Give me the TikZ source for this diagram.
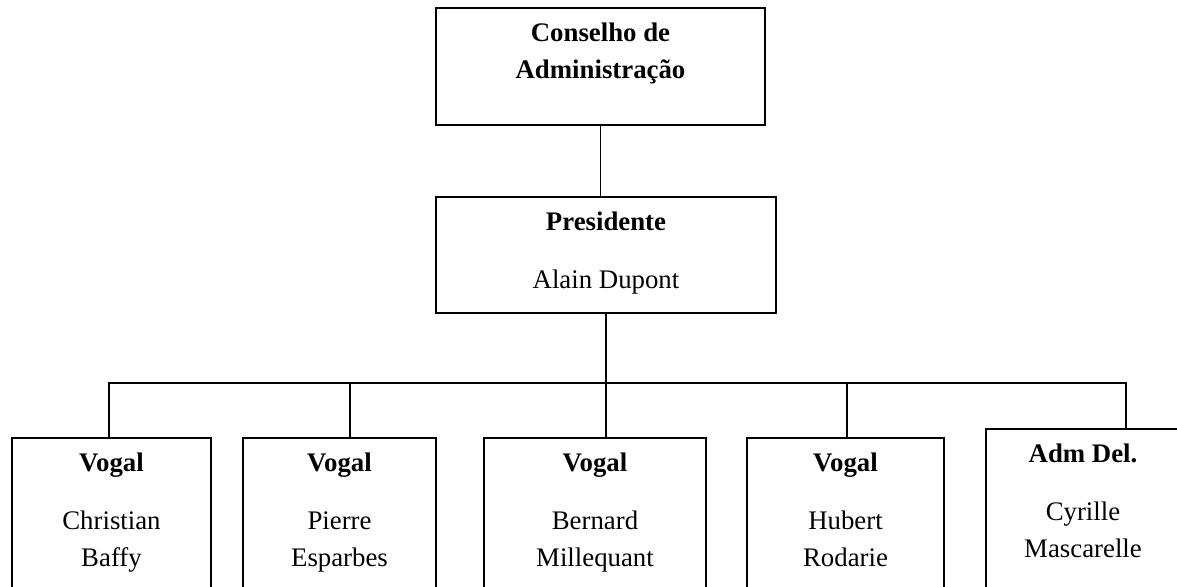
\documentclass[tikz,border=0pt]{standalone}
\usepackage{fontspec}
\setmainfont{Liberation Serif}
\begin{document}
\begin{tikzpicture}[x=1pt, y=1pt, line width=1.4pt, node distance=188.5pt,
  box/.style={draw, rectangle, inner sep=0pt, align=center, font=\fontsize{26.8}{37}\selectfont}]
  \useasboundingbox (0,0) rectangle (1177,-586);
  \clip (0,0) rectangle (1177,-586);
  % Nodes
  \node[box, minimum width=329pt, text height=70pt, text depth=47pt] (conselho) at (600.5,-66.5) {\textbf{Conselho de}\\\textbf{Administração}};
  \node[box, minimum width=340pt, text height=91pt, text depth=25pt, below of=conselho, xshift=5.5pt] (presidente) {\textbf{Presidente}\\[21pt]Alain Dupont};
  \node[box, minimum width=199pt, text height=128pt, text depth=42pt, below of=presidente, node distance=268pt, xshift=-494.5pt] (vogalA) {\textbf{Vogal}\\[21pt]Christian\\Baffy};
  \node[box, minimum width=193pt, text height=128pt, text depth=42pt, below of=presidente, node distance=268pt, xshift=-266.5pt] (vogalB) {\textbf{Vogal}\\[21pt]Pierre\\Esparbes};
  \node[box, minimum width=222pt, text height=128pt, text depth=42pt, below of=presidente, node distance=268pt, xshift=-11pt] (vogalC) {\textbf{Vogal}\\[21pt]Bernard\\Millequant};
  \node[box, minimum width=197pt, text height=128pt, text depth=42pt, below of=presidente, node distance=268pt, xshift=239.5pt] (vogalD) {\textbf{Vogal}\\[21pt]Hubert\\Rodarie};
  \node[box, minimum width=194pt, text height=128pt, text depth=42pt, below of=presidente, node distance=259pt, xshift=477pt] (admdel) {\textbf{Adm Del.}\\[21pt]Cyrille\\Mascarelle};
  % Connections
  \coordinate (bus) at (0,-383);
  \coordinate (topA) at ([xshift=-2.5pt]vogalA.north);
  \coordinate (topB) at ([xshift=10.5pt]vogalB.north);
  \coordinate (topD) at ([xshift=1.5pt]vogalD.north);
  \coordinate (topE) at ([xshift=43pt]admdel.north);
  \draw (conselho.south) -- (conselho.south |- presidente.north);
  \draw (presidente.south) -- (presidente.south |- vogalC.north);
  \draw (topA) |- (topE |- bus) -- (topE);
  \draw (topB) -- (topB |- bus);
  \draw (topD) -- (topD |- bus);
\end{tikzpicture}
\end{document}
